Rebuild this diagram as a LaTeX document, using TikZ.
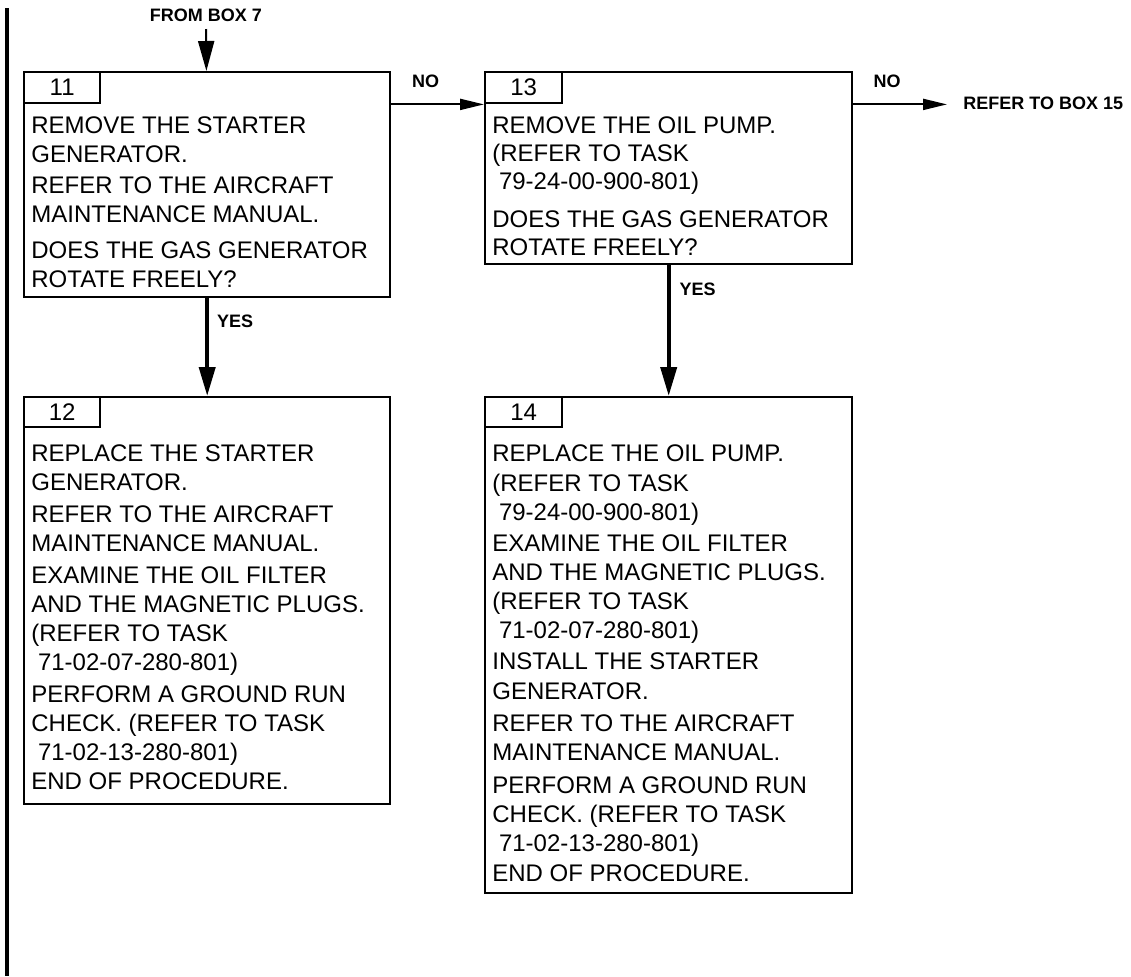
\documentclass[tikz,border=0pt]{standalone}
\usepackage{fontspec}
\setmainfont{Liberation Sans}
\usetikzlibrary{arrows.meta, positioning}

\newcommand{\indnum}{\hspace*{3.3pt}}

\begin{document}
\begin{tikzpicture}[
    x=0.5pt, y=-0.5pt,
    box/.style={
        draw,
        rectangle,
        line width=1.2pt,
        inner sep=0pt,
        anchor=north west,
        minimum width=183pt
    },
    tab/.style={
        draw,
        rectangle,
        line width=1.2pt,
        inner sep=0pt,
        anchor=north west,
        minimum width=38pt,
        minimum height=15.5pt,
        font=\fontsize{12}{14.5}\selectfont
    },
    body/.style={anchor=north west, inner sep=0pt, align=left},
    lbl/.style={inner sep=0pt, font=\bfseries\fontsize{9}{11}\selectfont},
    entry/.style={-{Triangle[length=15pt, width=8pt]}, line width=1pt},
    flow/.style={-{Triangle[length=12pt, width=5.5pt]}, line width=1pt},
    yes/.style={-{Triangle[length=14.5pt, width=8pt]}, line width=2pt}
]
\useasboundingbox (0,0) rectangle (1131,976);

% margin bar
\draw[line width=2.25pt] (7,8) -- (7,976);

\node[box, minimum height=112.5pt] (b11) at (23,71) {};
\node[box, minimum height=203.5pt] (b12) at (23,396) {};
\node[box, minimum width=183.5pt, minimum height=96pt] (b13) at (484,71) {};
\node[box, minimum width=183.5pt, minimum height=248pt] (b14) at (484,396) {};

\node[tab] (t11) at (b11.north west) {11};
\node[tab, minimum height=15pt] (t12) at (b12.north west) {12};
\node[tab, minimum width=38.5pt] (t13) at (b13.north west) {13};
\node[tab, minimum width=38.5pt, minimum height=15pt] (t14) at (b14.north west) {14};

\node[body, font=\fontsize{12}{14.5}\selectfont] (x11) at ([shift={(8,45.5)}]b11.north west)
    {REMOVE THE STARTER\\GENERATOR.\\[1pt]REFER TO THE AIRCRAFT\\MAINTENANCE MANUAL.\\[3.5pt]DOES THE GAS GENERATOR\\ROTATE FREELY?};
\node[body, font=\fontsize{12}{14.5}\selectfont] (x12) at ([shift={(8,48.5)}]b12.north west)
    {REPLACE THE STARTER\\GENERATOR.\\[1.5pt]REFER TO THE AIRCRAFT\\MAINTENANCE MANUAL.\\[1.5pt]EXAMINE THE OIL FILTER\\AND THE MAGNETIC PLUGS.\\(REFER TO TASK\\\indnum 71-02-07-280-801)\\[1.5pt]PERFORM A GROUND RUN\\CHECK. (REFER TO TASK\\\indnum 71-02-13-280-801)\\END OF PROCEDURE.};
\node[body, font=\fontsize{12}{14}\selectfont] (x13) at ([shift={(8,45.5)}]b13.north west)
    {REMOVE THE OIL PUMP.\\(REFER TO TASK\\\indnum 79-24-00-900-801)\\[5pt]DOES THE GAS GENERATOR\\ROTATE FREELY?};
\node[body, font=\fontsize{12}{14.5}\selectfont] (x14) at ([shift={(8,48.5)}]b14.north west)
    {REPLACE THE OIL PUMP.\\[0.5pt](REFER TO TASK\\\indnum 79-24-00-900-801)\\[1pt]EXAMINE THE OIL FILTER\\AND THE MAGNETIC PLUGS.\\(REFER TO TASK\\\indnum 71-02-07-280-801)\\[1pt]INSTALL THE STARTER\\[0.5pt]GENERATOR.\\[1.5pt]REFER TO THE AIRCRAFT\\MAINTENANCE MANUAL.\\[2pt]PERFORM A GROUND RUN\\CHECK. (REFER TO TASK\\\indnum 71-02-13-280-801)\\[0.5pt]END OF PROCEDURE.};

\node[lbl, anchor=south, inner sep=3.5pt] (from7) at (206,29) {FROM BOX 7};
\node[lbl, anchor=west, inner xsep=8pt] (ref15) at (947,103) {REFER TO BOX 15};

\draw[entry] (from7) -- (b11);
\draw[flow] (b11.east |- t11.south) -- node[lbl, above=8pt, pos=0.37] (no11) {NO} (b13.west |- t11.south);
\draw[flow] (b13.east |- t13.south) -- node[lbl, above=8pt, pos=0.36] (no13) {NO} (ref15.west |- t13.south);
\draw[yes] (b11) -- node[lbl, right=4pt, pos=0.235] (yes11) {YES} (b12);
\draw[yes] (b13) -- node[lbl, right=4.5pt, pos=0.18] (yes13) {YES} (b14);

\end{tikzpicture}
\end{document}
